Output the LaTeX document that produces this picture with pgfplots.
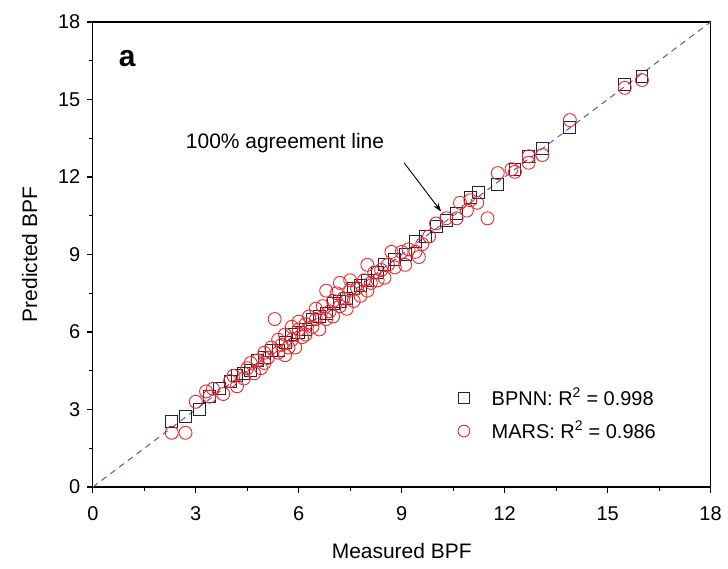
\documentclass[border=0pt]{standalone}
\usepackage{fontspec}
\setmainfont{Liberation Sans}
\usepackage{pgfplots}
\pgfplotsset{compat=1.18}
\usetikzlibrary{arrows.meta}
\definecolor{sqcol}{RGB}{35,35,60}
\definecolor{circcol}{RGB}{235,40,40}
\definecolor{linecol}{RGB}{85,85,200}
\begin{document}
\fontsize{19}{22}\selectfont
\begin{tikzpicture}
\begin{axis}[
  scale only axis, width=619pt, height=466pt,
  xmin=0, xmax=18, ymin=0, ymax=18,
  xtick={0,3,...,18}, ytick={0,3,...,18},
  minor tick num=1,
  tick align=outside, tick pos=left,
  major tick length=6pt, minor tick length=4pt,
  axis line style={line width=1.3pt},
  every tick/.style={line width=1.2pt, black},
  tick label style={font=\fontsize{20}{22}\selectfont},
  xticklabel style={yshift=-7pt},
  /pgf/number format/assume math mode=true,
  xlabel={Measured BPF}, ylabel={Predicted BPF},
  label style={font=\fontsize{21}{24}\selectfont},
  xlabel shift=10pt, ylabel shift=8pt,
  clip=false,
  legend style={draw=none, fill=none, at={(axis cs:10.55,4.0)}, anchor=north west,
    font=\fontsize{20}{22}\selectfont, row sep=9pt,
    /tikz/every odd column/.append style={column sep=20pt}},
  legend image post style={scale=0.9},
  legend cell align=left,
]
\addplot[linecol, dashed, line width=1pt, dash pattern=on 6pt off 5pt, forget plot] coordinates {(0,0) (18,18)};
\addplot[only marks, mark=square, mark size=6pt, sqcol, mark options={line width=0.9pt}] coordinates {
(2.3,2.55)(2.7,2.75)(3.1,3.0)(3.4,3.5)(3.7,3.8)(4.0,4.1)(4.2,4.3)(4.4,4.4)(4.6,4.5)(4.8,4.9)
(5.0,5.0)(5.2,5.3)(5.4,5.3)(5.6,5.6)(5.8,5.9)(6.0,6.0)(6.2,6.1)(6.4,6.5)(6.6,6.6)(6.8,6.7)
(7.0,7.1)(7.2,7.2)(7.4,7.3)(7.6,7.7)(7.8,7.8)(8.0,8.0)(8.3,8.3)(8.5,8.6)(8.8,8.8)(9.1,9.0)
(9.4,9.5)(9.7,9.7)(10.0,10.1)(10.3,10.3)(10.6,10.6)(11.0,11.2)(11.25,11.4)(11.8,11.7)(12.3,12.3)
(12.7,12.8)(13.1,13.1)(13.9,13.9)(15.5,15.6)(16.0,15.9)
};
\addlegendentry{BPNN: R\textsuperscript{2} = 0.998}
\addplot[only marks, mark=o, mark size=6.5pt, circcol, mark options={line width=0.9pt}] coordinates {
(2.3,2.1)(2.7,2.1)(3.0,3.3)(3.3,3.7)(3.5,3.8)(3.4,3.5)(3.8,3.6)(4.0,4.1)(4.1,4.3)(4.2,3.9)
(4.4,4.2)(4.5,4.6)(4.6,4.8)(4.7,4.4)(4.8,4.9)(4.9,4.6)(5.0,5.2)(5.0,4.8)(5.1,5.0)(5.2,5.4)
(5.3,6.5)(5.4,5.2)(5.4,5.7)(5.5,5.5)(5.6,5.9)(5.6,5.1)(5.7,5.4)(5.8,6.2)(5.8,5.7)(5.9,5.4)
(6.0,6.1)(6.0,6.4)(6.1,5.8)(6.2,6.3)(6.2,5.9)(6.3,6.6)(6.4,6.2)(6.5,6.9)(6.5,6.5)(6.6,6.1)
(6.7,7.0)(6.8,6.5)(6.8,7.6)(6.9,6.8)(7.0,7.2)(7.0,6.6)(7.1,7.5)(7.2,7.0)(7.2,7.9)(7.3,7.3)
(7.4,6.9)(7.5,7.6)(7.5,8.0)(7.6,7.2)(7.7,7.7)(7.8,7.4)(7.9,8.0)(8.0,8.6)(8.0,7.6)(8.1,7.9)
(8.2,8.3)(8.3,8.0)(8.4,8.4)(8.5,8.1)(8.6,8.6)(8.7,9.1)(8.8,8.5)(9.0,9.1)(9.1,8.6)(9.2,9.2)
(9.4,9.1)(9.5,8.9)(9.6,9.4)(9.8,9.7)(10.0,10.2)(10.3,10.4)(10.6,10.4)(10.7,11.0)(10.9,10.7)
(11.0,11.1)(11.5,10.4)(11.2,11.0)(11.8,12.15)(12.2,12.3)(12.3,12.2)(12.7,12.55)(12.7,12.8)
(13.1,12.85)(13.9,14.2)(15.5,15.45)(16.0,15.75)
};
\addlegendentry{MARS: R\textsuperscript{2} = 0.986}
\node[font=\bfseries\fontsize{30}{30}\selectfont] at (axis cs:1.0,16.6) {a};
\node[font=\fontsize{21}{22}\selectfont] at (axis cs:5.6,13.3) {100\% agreement line};
\draw[-{Stealth[length=9pt,width=6pt]}, line width=0.9pt] (axis cs:9.07,12.55) -- (axis cs:10.15,10.66);
\end{axis}
\path (current axis.south west) ++(-93pt,-82pt) coordinate (bbA);
\path (current axis.north east) ++(16pt,22pt) coordinate (bbB);
\path (bbA) rectangle (bbB);
\end{tikzpicture}
\end{document}
